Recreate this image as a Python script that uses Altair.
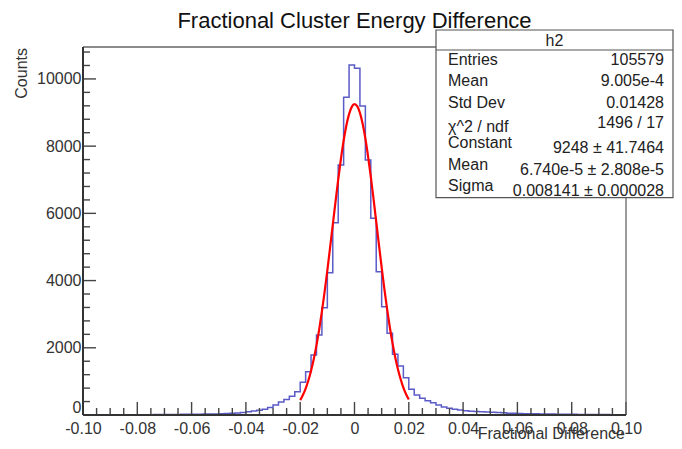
import altair as alt
import pandas as pd

# ---------------- data ----------------
title_text = "Fractional Cluster Energy Difference"
x_title = "Fractional Difference"
y_title = "Counts"

bin_low = -0.10
bin_width = 0.002
counts = [
    0, 0, 0, 0, 0, 0, 1, 2, 4, 6,
    8, 9, 11, 12, 13, 15, 16, 18, 19, 21,
    23, 25, 27, 30, 33, 37, 44, 50, 60, 75,
    95, 118, 145, 172, 220, 300, 390, 462, 560, 690,
    972, 1290, 1786, 2381, 3193, 4235, 5723, 7440, 9455, 10417,
    10318, 9196, 7589, 5854, 4265, 3223, 2431, 1806, 1458, 1111,
    764, 595, 496, 427, 367, 298, 240, 200, 170, 150,
    130, 115, 105, 98, 92, 85, 75, 65, 55, 50,
    45, 40, 37, 34, 31, 29, 27, 25, 23, 21,
    19, 18, 16, 15, 14, 13, 12, 11, 10, 10,
]

fit_x = [
    -0.020, -0.019, -0.018, -0.017, -0.016, -0.015, -0.014, -0.013, -0.012, -0.011,
    -0.010, -0.009, -0.008, -0.007, -0.006, -0.005, -0.004, -0.003, -0.002, -0.001,
    0.000, 0.001, 0.002, 0.003, 0.004, 0.005, 0.006, 0.007, 0.008, 0.009,
    0.010, 0.011, 0.012, 0.013, 0.014, 0.015, 0.016, 0.017, 0.018, 0.019, 0.020,
]
fit_y = [
    443, 595, 788, 1027, 1319, 1668, 2078, 2550, 3083, 3670,
    4305, 4973, 5660, 6345, 7006, 7619, 8163, 8614, 8954, 9169,
    9248, 9188, 8991, 8667, 8230, 7697, 7091, 6436, 5753, 5065,
    4393, 3754, 3159, 2619, 2138, 1720, 1363, 1063, 817, 619, 462,
]

x_major = [-0.10, -0.08, -0.06, -0.04, -0.02, 0.0, 0.02, 0.04, 0.06, 0.08, 0.10]
x_minor = [
    -0.095, -0.09, -0.085, -0.075, -0.07, -0.065, -0.055, -0.05, -0.045,
    -0.035, -0.03, -0.025, -0.015, -0.01, -0.005, 0.005, 0.01, 0.015,
    0.025, 0.03, 0.035, 0.045, 0.05, 0.055, 0.065, 0.07, 0.075,
    0.085, 0.09, 0.095,
]
y_major = [0, 2000, 4000, 6000, 8000, 10000]
y_minor = [400, 800, 1200, 1600, 2400, 2800, 3200, 3600, 4400, 4800, 5200, 5600,
           6400, 6800, 7200, 7600, 8400, 8800, 9200, 9600, 10400, 10800]

stats_name = "h2"
stat_labels = ["Entries", "Mean", "Std Dev", "\u03c7^2 / ndf", "Constant", "Mean", "Sigma"]
stat_values = ["105579", "9.005e-4", "0.01428", "1496 / 17", "9248 \u00b1 41.7464",
               "6.740e-5 \u00b1 2.808e-5", "0.008141 \u00b1 0.000028"]

# ---------------- styling ----------------
FONT = "Liberation Sans"
W, H = 543, 368
BOX_L, BOX_R, BOX_T, BOX_B = 353, 590, -17, 150.7
label_y_px = [13, 34, 56, 80, 96, 118, 139]
value_y_px = [13, 34, 56, 76, 101, 123, 144]

# ---------------- tables ----------------
hist_x = [round(bin_low + i * bin_width, 4) for i in range(len(counts) + 1)]
hist_y = counts + [counts[-1]]
hist_df = pd.DataFrame({"x": hist_x, "y": hist_y})
fit_df = pd.DataFrame({"x": fit_x, "y": fit_y})
one = pd.DataFrame({"k": [0]})

xs = alt.Scale(domain=[-0.1, 0.1], nice=False, zero=False)
ys = alt.Scale(domain=[0, 10950], nice=False, zero=True)

x_axis = alt.Axis(
    values=x_major,
    labelExpr="datum.value == 0 ? '0' : (datum.value < 0 ? '-' : '') + format(abs(datum.value), '.2f')",
    ticks=False, tickSize=0, domain=False, grid=False,
    labelFont=FONT, labelFontSize=16, labelColor="#333333",
    labelPadding=5, labelFlush=False, labelOverlap=False, title=None,
)
y_axis = alt.Axis(
    values=y_major, format="d",
    ticks=False, tickSize=0, domain=False, grid=False,
    labelFont=FONT, labelFontSize=16, labelColor="#333333",
    labelPadding=2, labelFlush=False, labelOverlap=False, title=None,
    labelBaseline={"condition": {"test": "datum.value == 0", "value": "bottom"}, "value": "middle"},
)


def X(field):
    return alt.X(field, scale=xs, axis=x_axis)


def Y(field):
    return alt.Y(field, scale=ys, axis=y_axis)


hist = alt.Chart(hist_df).mark_line(
    interpolate="step-after", color="#5b5bc8", strokeWidth=1.5
).encode(x=X("x:Q"), y=Y("y:Q"))

fit = alt.Chart(fit_df).mark_line(
    interpolate="monotone", color="#ff0000", strokeWidth=2.2
).encode(x=X("x:Q"), y=Y("y:Q"))

# frame
frame_left = alt.Chart(one).mark_rule(color="#333333", strokeWidth=2).encode(
    x=alt.value(0), y=alt.value(0), y2=alt.value(H))
frame_bottom = alt.Chart(one).mark_rule(color="#333333", strokeWidth=2).encode(
    x=alt.value(0), x2=alt.value(W), y=alt.value(H))
frame_right = alt.Chart(one).mark_rule(color="#666666", strokeWidth=1.3).encode(
    x=alt.value(W), y=alt.value(0), y2=alt.value(H))
frame_top = alt.Chart(one).mark_rule(color="#666666", strokeWidth=1.3).encode(
    x=alt.value(0), x2=alt.value(W), y=alt.value(0))

# ticks (inward, ROOT style)
xmaj = alt.Chart(pd.DataFrame({"t": x_major})).mark_rule(color="#444444", strokeWidth=1.4).encode(
    x=X("t:Q"), y=alt.value(H), y2=alt.value(H - 13))
xmin = alt.Chart(pd.DataFrame({"t": x_minor})).mark_rule(color="#444444", strokeWidth=1.4).encode(
    x=X("t:Q"), y=alt.value(H), y2=alt.value(H - 7))
ymaj = alt.Chart(pd.DataFrame({"t": y_major})).mark_rule(color="#444444", strokeWidth=1.4).encode(
    y=Y("t:Q"), x=alt.value(0), x2=alt.value(13))
ymin = alt.Chart(pd.DataFrame({"t": y_minor})).mark_rule(color="#444444", strokeWidth=1.4).encode(
    y=Y("t:Q"), x=alt.value(0), x2=alt.value(7))

# titles
title = alt.Chart(one).mark_text(
    text=title_text, font=FONT, fontSize=22, color="#111111", align="center", baseline="alphabetic"
).encode(x=alt.value(W / 2), y=alt.value(-19))
xtitle = alt.Chart(one).mark_text(
    text=x_title, font=FONT, fontSize=16, color="#333333", align="right", baseline="alphabetic"
).encode(x=alt.value(W - 1), y=alt.value(392))
ytitle = alt.Chart(one).mark_text(
    text=y_title, font=FONT, fontSize=16, color="#333333", align="right", baseline="middle", angle=270
).encode(x=alt.value(-61), y=alt.value(1))

# stats box
box = alt.Chart(one).mark_rect(fill="white", stroke="#555555", strokeWidth=1.2).encode(
    x=alt.value(BOX_L), x2=alt.value(BOX_R), y=alt.value(BOX_T), y2=alt.value(BOX_B))
box_line = alt.Chart(one).mark_rule(color="#555555", strokeWidth=1.2).encode(
    x=alt.value(BOX_L), x2=alt.value(BOX_R), y=alt.value(3))
box_name = alt.Chart(one).mark_text(
    text=stats_name, font=FONT, fontSize=16, color="#222222", align="center", baseline="middle"
).encode(x=alt.value((BOX_L + BOX_R) / 2), y=alt.value(-6))

stat_layers = []
for lab, val, ly, vy in zip(stat_labels, stat_values, label_y_px, value_y_px):
    stat_layers.append(alt.Chart(one).mark_text(
        text=lab, font=FONT, fontSize=16, color="#222222", align="left", baseline="middle"
    ).encode(x=alt.value(BOX_L + 12), y=alt.value(ly)))
    stat_layers.append(alt.Chart(one).mark_text(
        text=val, font=FONT, fontSize=16, color="#222222", align="right", baseline="middle"
    ).encode(x=alt.value(BOX_R - 9), y=alt.value(vy)))

chart = alt.layer(
    hist, fit, xmaj, xmin, ymaj, ymin, frame_right, frame_top, frame_left, frame_bottom,
    title, xtitle, ytitle, box, box_line, box_name, *stat_layers
).properties(
    width=W, height=H,
    autosize=alt.AutoSizeParams(type="none"),
    padding={"left": 75, "top": 39, "right": 48, "bottom": 26},
).configure_view(stroke=None)

chart.save("out.html", embed_options={"renderer": "svg", "actions": False})
